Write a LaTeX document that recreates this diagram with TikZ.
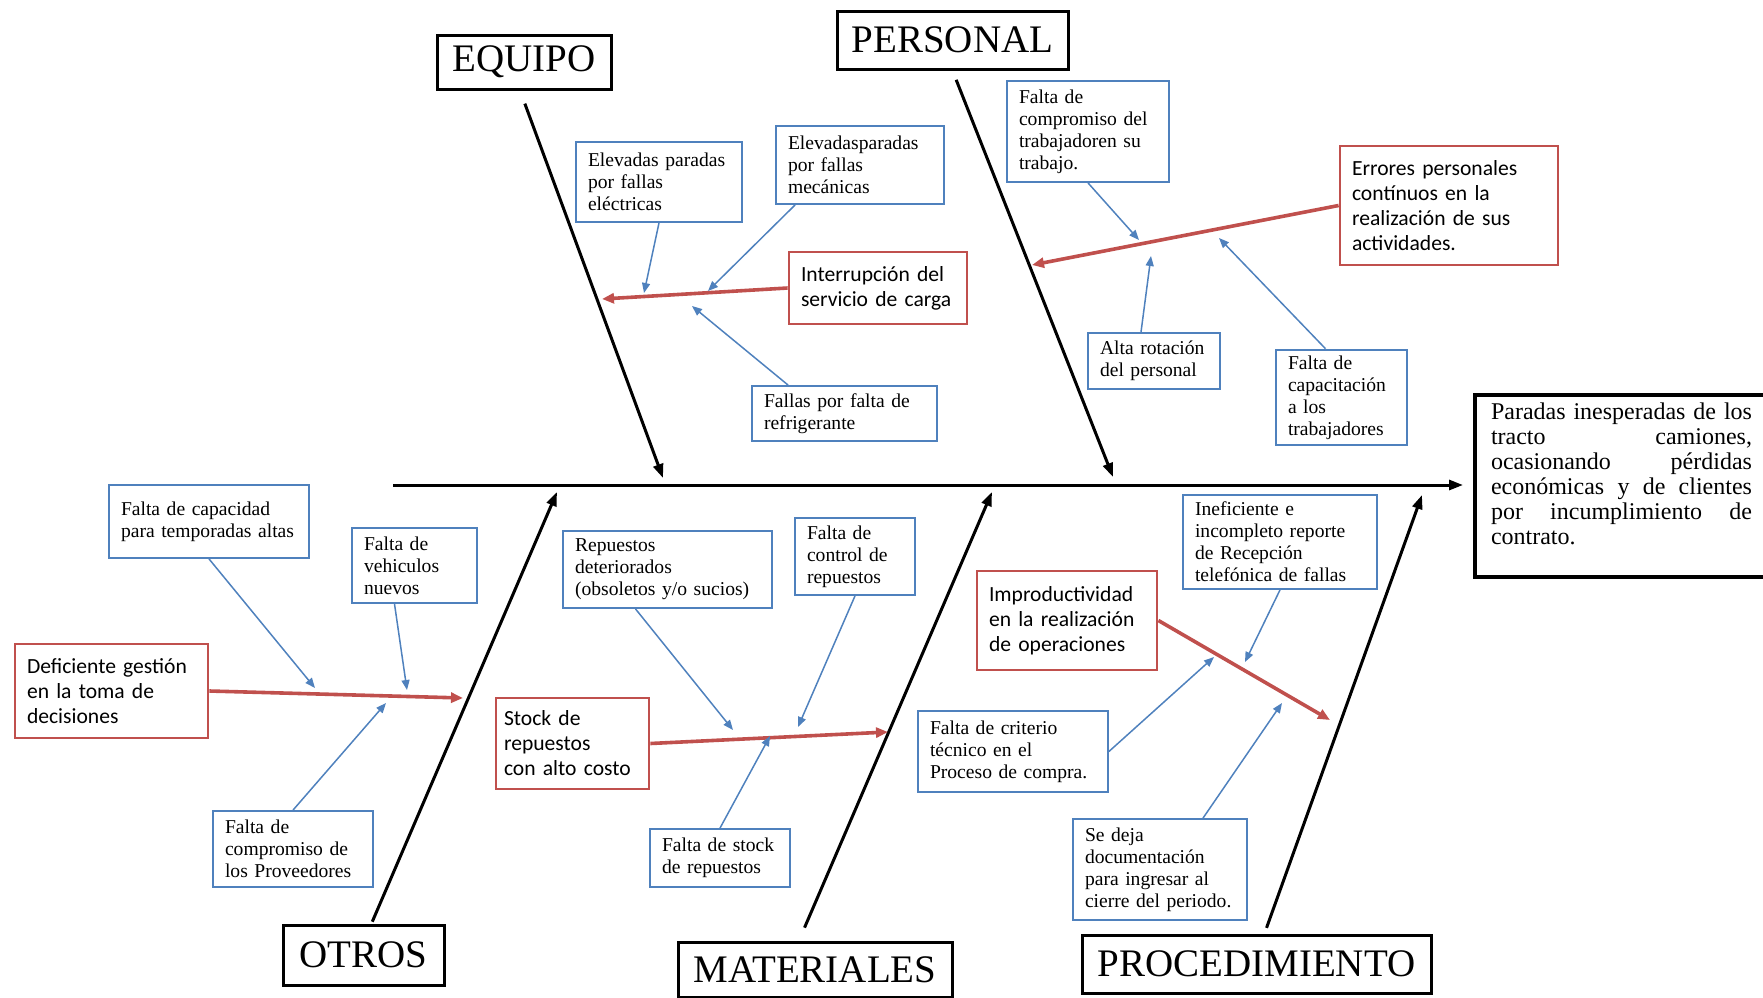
\documentclass[tikz,border=0pt]{standalone}
\usepackage{fontspec}
\setmainfont{Liberation Serif}
\newfontfamily\boxsans{Carlito}
\usetikzlibrary{arrows.meta}
\definecolor{cblue}{HTML}{4F81BD}
\definecolor{cred}{HTML}{C0504D}
\newcommand{\spreadline}[1]{\makebox[\linewidth][s]{#1}}

\begin{document}
\begin{tikzpicture}[x=0.5pt, y=-0.5pt,
  catbox/.style={draw=black, line width=1.5pt, inner sep=2pt,
                 font=\fontsize{19.5}{22}\selectfont},
  causebox/.style={draw=cblue, line width=0.9pt, fill=white, align=left,
                   inner xsep=6pt, inner ysep=3pt, font=\fontsize{9.8}{11}\selectfont},
  probbox/.style={draw=cred, line width=1.4pt, fill=white, align=left,
                  inner xsep=6pt, inner ysep=4pt, font=\boxsans\fontsize{10.8}{12.5}\selectfont},
  effectbox/.style={draw=black, line width=2pt, anchor=north west,
                    inner xsep=8pt, inner ysep=4pt, font=\fontsize{12}{12.5}\selectfont},
  bone/.style={line width=1.5pt, -{Triangle[length=7pt,width=5pt]}},
  probarrow/.style={draw=cred, line width=1.8pt, -{Triangle[length=6pt,width=5pt]}},
  causearrow/.style={draw=cblue, line width=0.75pt, -{Triangle[length=5pt,width=4pt]}}]
  \useasboundingbox (0,0) rectangle (1763,997);

  % efecto
  \node[effectbox] (effect) at (1473,393) {\parbox[t][83pt][t]{130.5pt}{%
    \spreadline{Paradas inesperadas de los}\\
    \spreadline{tracto camiones,}\\
    \spreadline{ocasionando pérdidas}\\
    \spreadline{económicas y de clientes}\\
    \spreadline{por incumplimiento de}\\
    contrato.}};

  % categorias
  \node[catbox, minimum width=87pt, minimum height=27pt] (equipo) at (524,62) {EQUIPO};
  \node[catbox, minimum width=115.5pt, minimum height=29pt] (personal) at (952.5,40) {PERSONAL};
  \node[catbox, minimum width=80.5pt, minimum height=30pt] (otros) at (363.5,955) {OTROS};
  \node[catbox, minimum width=137pt, minimum height=27.5pt] (materiales) at (815,969.5) {MATERIALES};
  \node[catbox, minimum width=174.5pt, minimum height=29pt] (procedimiento) at (1256.5,964) {PROCEDIMIENTO};

  % problemas
  \node[probbox, text width=77pt, minimum height=36pt] (interr) at (878,288)
    {Interrupción del\\servicio de carga};
  \node[probbox, text width=97pt, minimum height=59.5pt] (errores) at (1449,205.5)
    {Errores personales\\contínuos en la\\realización de sus\\actividades.};
  \node[probbox, text width=84.5pt, minimum height=47pt] (defic) at (111.5,691)
    {Deficiente gestión\\en la toma de\\decisiones};
  \node[probbox, inner xsep=4pt, text width=68.5pt, minimum height=45.5pt] (stock) at (572.5,743.5)
    {Stock de\\repuestos\\con alto costo};
  \node[probbox, text width=78pt, minimum height=49.5pt] (improd) at (1067,620.5)
    {Improductividad\\en la realización\\de operaciones};

  % causas
  \node[causebox, text width=71pt, minimum height=40pt] (elec) at (659,182)
    {Elevadas paradas\\por fallas\\eléctricas};
  \node[causebox, text width=72pt, minimum height=39pt] (mec) at (860,165)
    {Elevadasparadas\\por fallas\\mecánicas};
  \node[causebox, text width=80.5pt, minimum height=27.5pt] (refr) at (844.5,413.5)
    {Fallas por falta de\\refrigerante};
  \node[causebox, text width=69pt, minimum height=50.5pt] (comptrab) at (1088,131.5)
    {Falta de\\compromiso del\\trabajadoren su\\trabajo.};
  \node[causebox, text width=54pt, minimum height=28pt] (rot) at (1154,361)
    {Alta rotación\\del personal};
  \node[causebox, text width=53.5pt, minimum height=47.5pt] (capac) at (1341.5,397.5)
    {Falta de\\capacitación\\a los\\trabajadores};
  \node[causebox, text width=88pt, minimum height=36.5pt] (capacidad) at (209,521.5)
    {Falta de capacidad\\para temporadas altas};
  \node[causebox, text width=50.5pt, minimum height=37.5pt] (vehic) at (414.5,565.5)
    {Falta de\\vehiculos\\nuevos};
  \node[causebox, text width=68pt, minimum height=38pt] (prov) at (293,849)
    {Falta de\\compromiso de\\los Proveedores};
  \node[causebox, text width=92.5pt, minimum height=38.5pt] (deter) at (667.5,569.5)
    {Repuestos\\deteriorados\\(obsoletos y/o sucios)};
  \node[causebox, text width=48pt, minimum height=38.5pt] (control) at (855,556.5)
    {Falta de\\control de\\repuestos};
  \node[causebox, text width=58pt, minimum height=29pt] (fstock) at (720,858)
    {Falta de stock\\de repuestos};
  \node[causebox, text width=85pt, minimum height=47pt] (inef) at (1280,542)
    {Ineficiente e\\incompleto reporte\\de Recepción\\telefónica de fallas};
  \node[causebox, text width=83pt, minimum height=40.5pt] (criterio) at (1013,751.5)
    {Falta de criterio\\técnico en el\\Proceso de compra.};
  \node[causebox, text width=75pt, minimum height=50.5pt] (sedeja) at (1160,869.5)
    {Se deja\\documentación\\para ingresar al\\cierre del periodo.};

  % puntos de llegada
  \coordinate (spine) at (393,485);
  \coordinate (b-equipo) at (663,478);
  \coordinate (b-personal) at (1113,477);
  \coordinate (b-otros) at (557,492);
  \coordinate (b-mat) at (992,492);
  \coordinate (b-proc) at (1422,495);
  \coordinate (r-equipo) at (602,299);
  \coordinate (r-personal) at (1032,265);
  \coordinate (r-otros) at (463,698);
  \coordinate (r-mat) at (888,732);
  \coordinate (r-proc) at (1330,720);
  \coordinate (t-elec) at (644,293);
  \coordinate (t-mec) at (708,291);
  \coordinate (t-refr) at (692,306);
  \coordinate (t-comptrab) at (1139,240);
  \coordinate (t-rot) at (1151,256);
  \coordinate (t-capac) at (1219,238);
  \coordinate (t-capacidad) at (315,688);
  \coordinate (t-vehic) at (407,690);
  \coordinate (t-prov) at (386,703);
  \coordinate (t-deter) at (733,730);
  \coordinate (t-control) at (798,727);
  \coordinate (t-fstock) at (770,736);
  \coordinate (t-inef) at (1245,662);
  \coordinate (t-criterio) at (1214,657);
  \coordinate (t-sedeja) at (1282,703);

  % espina y huesos
  \draw[bone, shorten >=5pt] (spine) -- (spine -| effect.west);
  \draw[bone, shorten <=7pt] ([xshift=-2pt]equipo.south) -- (b-equipo);
  \draw[bone, shorten <=5pt] (personal.south) -- (b-personal);
  \draw[bone, shorten <=1pt] ([xshift=4pt]otros.north) -- (b-otros);
  \draw[bone, shorten <=7pt] ([xshift=-8pt]materiales.north) -- (b-mat);
  \draw[bone, shorten <=3pt] ([xshift=4pt]procedimiento.north) -- (b-proc);

  % flechas rojas
  \draw[probarrow] (interr.west) -- (r-equipo);
  \draw[probarrow] (errores.west) -- (r-personal);
  \draw[probarrow] (defic.east) -- (r-otros);
  \draw[probarrow] (stock.east) -- (r-mat);
  \draw[probarrow] (improd.east) -- (r-proc);

  % flechas azules
  \draw[causearrow] (elec.south) -- (t-elec);
  \draw[causearrow] ([xshift=10pt]mec.south west) -- (t-mec);
  \draw[causearrow] ([xshift=18.5pt]refr.north west) -- (t-refr);
  \draw[causearrow] (comptrab.south) -- (t-comptrab);
  \draw[causearrow] ([xshift=-6.5pt]rot.north) -- (t-rot);
  \draw[causearrow] ([xshift=-8pt]capac.north) -- (t-capac);
  \draw[causearrow] (capacidad.south) -- (t-capacidad);
  \draw[causearrow] ([xshift=-10pt]vehic.south) -- (t-vehic);
  \draw[causearrow] (prov.north) -- (t-prov);
  \draw[causearrow] ([xshift=-16pt]deter.south) -- (t-deter);
  \draw[causearrow] (control.south) -- (t-control);
  \draw[causearrow] (fstock.north) -- (t-fstock);
  \draw[causearrow] (inef.south) -- (t-inef);
  \draw[causearrow] (criterio.east) -- (t-criterio);
  \draw[causearrow] ([xshift=21.5pt]sedeja.north) -- (t-sedeja);
\end{tikzpicture}
\end{document}
